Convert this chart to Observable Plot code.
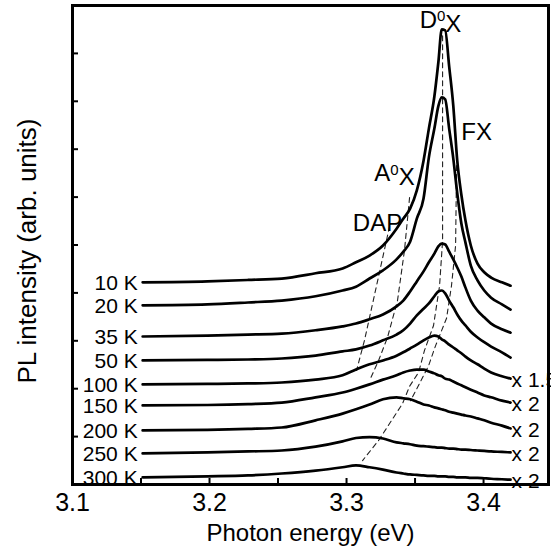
<!DOCTYPE html>
<html><head><meta charset="utf-8">
<script src="https://cdn.jsdelivr.net/npm/d3@7"></script>
<script src="https://cdn.jsdelivr.net/npm/@observablehq/plot@0.6"></script>
<style>html,body{margin:0;padding:0;background:#fff;overflow:hidden}</style>
</head><body><div id="chart"></div>
<script>
// Photon energy grid (eV)
const energy = [3.1512, 3.1985, 3.2281, 3.2527, 3.2774, 3.2971, 3.3069, 3.3168, 3.3266, 3.3365, 3.3414, 3.3464, 3.3513, 3.3562, 3.3601, 3.3641, 3.3670, 3.3695, 3.3720, 3.3749, 3.3779, 3.3808, 3.3838, 3.3868, 3.3907, 3.3956, 3.4005, 3.4055, 3.4134, 3.4197];

// Temperatures and multipliers
const temps = ["10 K", "20 K", "35 K", "50 K", "100 K", "150 K", "200 K", "250 K", "300 K"];
const factors = ["", "", "", "", "x 1.5", "x 2", "x 2", "x 2", "x 2"];

// PL intensity (arb. units, offset spectra)
const i10  = [4.22,4.24,4.27,4.30,4.41,4.51,4.64,4.78,4.99,5.34,5.55,5.76,6.14,6.76,7.43,8.10,8.81,9.50,9.48,8.73,7.91,6.76,6.05,5.51,4.99,4.61,4.43,4.32,4.22,4.15];
const i20  = [3.74,3.76,3.80,3.84,3.93,4.05,4.13,4.30,4.47,4.70,4.86,5.07,5.55,5.97,6.83,7.43,7.90,8.08,8.04,7.43,6.81,6.08,5.45,5.05,4.57,4.26,4.05,3.90,3.76,3.65];
const i35  = [3.09,3.11,3.13,3.15,3.22,3.30,3.36,3.45,3.55,3.72,3.84,4.03,4.24,4.45,4.64,4.82,4.97,5.03,5.01,4.86,4.70,4.53,4.34,4.11,3.84,3.63,3.49,3.36,3.24,3.17];
const i50  = [2.59,2.60,2.61,2.63,2.69,2.78,2.82,2.90,3.01,3.13,3.22,3.36,3.53,3.67,3.78,3.93,4.03,4.05,3.99,3.84,3.70,3.55,3.42,3.32,3.19,3.07,2.97,2.88,2.76,2.65];
const i100 = [2.09,2.10,2.11,2.13,2.19,2.28,2.40,2.51,2.59,2.69,2.76,2.84,2.92,3.01,3.07,3.11,3.09,3.03,2.99,2.92,2.86,2.80,2.74,2.67,2.59,2.51,2.42,2.34,2.26,2.21];
const i150 = [1.65,1.66,1.68,1.71,1.82,1.92,2.00,2.09,2.19,2.28,2.34,2.38,2.40,2.40,2.36,2.32,2.28,2.26,2.21,2.19,2.15,2.11,2.07,2.03,1.98,1.92,1.86,1.82,1.75,1.71];
const i200 = [1.13,1.14,1.16,1.19,1.34,1.48,1.57,1.67,1.78,1.82,1.80,1.78,1.73,1.67,1.65,1.61,1.59,1.57,1.55,1.52,1.50,1.48,1.46,1.44,1.42,1.38,1.34,1.29,1.23,1.17];
const i250 = [0.65,0.67,0.69,0.71,0.79,0.90,0.97,0.99,0.96,0.88,0.86,0.84,0.81,0.80,0.79,0.78,0.77,0.77,0.76,0.75,0.75,0.74,0.73,0.73,0.72,0.71,0.70,0.69,0.68,0.67];
const i300 = [0.15,0.17,0.19,0.23,0.29,0.36,0.40,0.36,0.31,0.25,0.23,0.21,0.20,0.19,0.18,0.18,0.17,0.17,0.17,0.16,0.16,0.15,0.15,0.15,0.14,0.14,0.13,0.12,0.11,0.10];
const series = [i10, i20, i35, i50, i100, i150, i200, i250, i300];

// Peak-tracking guide lines (energy, intensity)
const dapE = [3.3314, 3.3219, 3.3131, 3.3073];
const dapI = [5.39, 4.15, 3.01, 2.38];
const a0xE = [3.3460, 3.3423, 3.3372, 3.3299, 3.3234, 3.3168];
const a0xI = [5.99, 4.89, 3.84, 3.07, 2.59, 2.17];
const d0xE = [3.3701, 3.3701, 3.3679, 3.3635, 3.3569, 3.3526, 3.3460, 3.3409, 3.3343, 3.3234, 3.3117];
const d0xI = [9.37, 5.09, 4.15, 3.32, 2.80, 2.34, 2.05, 1.69, 1.40, 0.92, 0.50];
const fxE  = [3.3803, 3.3796, 3.3766, 3.3730, 3.3650, 3.3599, 3.3526, 3.3467];
const fxI  = [6.66, 4.99, 4.15, 3.47, 2.90, 2.48, 2.07, 1.75];

// Peak labels
const peakNames = ["D0X", "FX", "A0X", "DAP"];
const peakE = [3.3686, 3.3949, 3.3350, 3.3226];
const peakI = [9.69, 7.35, 6.49, 5.45];

// Axis ticks
const xTickLabels = [3.1, 3.2, 3.3, 3.4];
const xMinorTicks = [3.15, 3.2, 3.25, 3.3, 3.35, 3.4];
const yTicks = [1, 2, 3, 4, 5, 6, 7, 8, 9];

const rows = [];
series.forEach((s, k) => s.forEach((v, j) => rows.push({T: temps[k], E: energy[j], I: v})));
const guides = [];
[["DAP", dapE, dapI], ["A0X", a0xE, a0xI], ["D0X", d0xE, d0xI], ["FX", fxE, fxI]]
  .forEach(([n, es, is]) => es.forEach((e, j) => guides.push({n, E: e, I: is[j]})));

const font = "'Liberation Sans', Arial, Helvetica, sans-serif";
const plot = Plot.plot({
  width: 551, height: 551,
  marginLeft: 72, marginRight: 3, marginTop: 5, marginBottom: 67,
  x: {domain: [3.1, 3.4474]},
  y: {domain: [0, 10]},
  style: {fontFamily: font, background: "white", color: "black"},
  marks: [
    Plot.ruleX(xMinorTicks, {x: d => d, insetTop: 473, stroke: "black", strokeWidth: 2}),
    Plot.ruleY(yTicks, {y: d => d, insetRight: 470, stroke: "black", strokeWidth: 2}),
    Plot.axisX(xTickLabels, {tickSize: 0, tickPadding: 9, fontSize: 25, tickFormat: d => d.toFixed(1), label: null, fill: "black"}),
    Plot.axisY({ticks: [], label: null, tickSize: 0}),
    Plot.line(guides, {x: "E", y: "I", z: "n", stroke: "#222", strokeWidth: 1.1, strokeDasharray: "5,4"}),
    Plot.line(rows, {x: "E", y: "I", z: "T", stroke: "black", strokeWidth: 2.7, curve: "monotone-x"}),
    Plot.text(temps, {x: () => energy[0], y: (d, i) => series[i][0], text: d => d, textAnchor: "end", dx: -5, dy: 1, fontSize: 21, fill: "black"}),
    Plot.text(factors, {x: () => energy[energy.length - 1], y: (d, i) => series[i][series[i].length - 1], text: d => d, textAnchor: "start", dx: 1, dy: 2, fontSize: 21, fill: "black"}),
    Plot.text(peakNames, {x: (d, i) => peakE[i], y: (d, i) => peakI[i], text: d => d, fontSize: 24, fill: "black"}),
    Plot.text(["Photon energy (eV)"], {frameAnchor: "bottom", textAnchor: "middle", lineAnchor: "middle", dy: 49, fontSize: 24, fill: "black"}),
    Plot.text(["PL intensity (arb. units)"], {frameAnchor: "left", textAnchor: "middle", lineAnchor: "middle", dx: -45, dy: 6, rotate: -90, fontSize: 26, fill: "black"}),
    Plot.frame({stroke: "black", strokeWidth: 3, fill: "none"})
  ]
});
// superscript zeros in exciton labels
d3.select(plot).selectAll("text").each(function () {
  const t = this.textContent;
  if (t === "D0X" || t === "A0X") {
    const sel = d3.select(this);
    sel.text(null);
    sel.append("tspan").text(t[0]);
    sel.append("tspan").attr("dy", "-0.45em").attr("font-size", "15").text("0");
    sel.append("tspan").attr("dy", "0.45em").text("X");
  }
});
document.getElementById("chart").appendChild(plot);
</script>
</body></html>
